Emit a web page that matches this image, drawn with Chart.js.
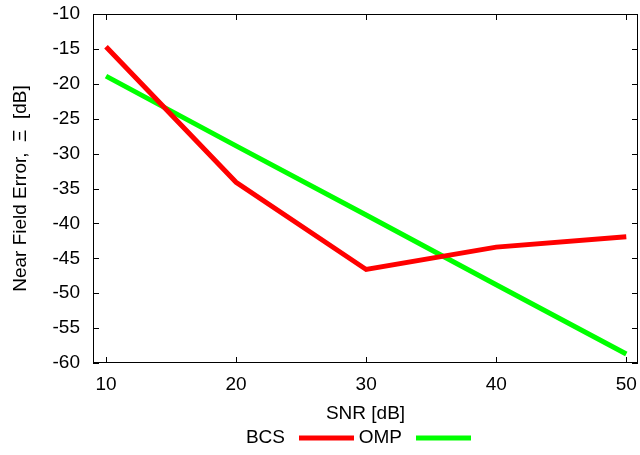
<!DOCTYPE html>
<html>
<head>
<meta charset="utf-8">
<script src="https://cdn.jsdelivr.net/npm/chart.js@4"></script>
<style>
  html, body { margin: 0; padding: 0; background: #fff; }
  #wrap { width: 640px; height: 455px; position: relative; }
</style>
</head>
<body>
<div id="wrap"><canvas id="nfChart"></canvas></div>
<script>
// values
const snr = [10, 20, 30, 40, 50];
const bcs = [-14.7, -34.1, -46.6, -43.4, -41.9];
const omp = [-18.9, -28.9, -38.8, -48.8, -58.7];
const xTicks = [10, 20, 30, 40, 50];

const FONT = "'Liberation Sans', Arial, sans-serif";

// gnuplot-like frame, inward ticks and a "label then line" legend
const gnuplotLook = {
    id: 'gnuplotLook',
    afterDatasetsDraw(chart) {
        const { ctx, chartArea: a, scales: { x, y } } = chart;
        ctx.save();
        ctx.strokeStyle = '#000';
        ctx.lineWidth = 1;
        ctx.strokeRect(a.left + 0.5, a.top + 0.5, a.right - a.left - 1, a.bottom - a.top - 1);
        const len = 6;
        ctx.beginPath();
        x.ticks.forEach(t => {
            const px = Math.round(x.getPixelForValue(t.value)) + 0.5;
            ctx.moveTo(px, a.bottom); ctx.lineTo(px, a.bottom - len);
            ctx.moveTo(px, a.top); ctx.lineTo(px, a.top + len);
        });
        y.ticks.forEach(t => {
            const py = Math.round(y.getPixelForValue(t.value)) + 0.5;
            ctx.moveTo(a.left, py); ctx.lineTo(a.left + len, py);
            ctx.moveTo(a.right, py); ctx.lineTo(a.right - len, py);
        });
        ctx.stroke();

        // legend
        ctx.font = '19px ' + FONT;
        ctx.textAlign = 'right';
        ctx.textBaseline = 'middle';
        ctx.fillStyle = '#000';
        const ly = 438;
        chart.data.datasets.forEach((ds, i) => {
            const textRight = 285 + i * 117;
            ctx.fillText(ds.label, textRight, ly);
            ctx.strokeStyle = ds.borderColor;
            ctx.lineWidth = 5;
            ctx.beginPath();
            ctx.moveTo(textRight + 14, ly);
            ctx.lineTo(textRight + 69, ly);
            ctx.stroke();
        });
        ctx.restore();
    }
};

const ctx = document.getElementById('nfChart');

new Chart(ctx, {
    type: 'line',
    data: {
        datasets: [{
            label: 'BCS',
            data: snr.map((v, i) => ({ x: v, y: bcs[i] })),
            borderColor: '#ff0000',
            backgroundColor: '#ff0000',
            borderWidth: 5,
            tension: 0,
            pointRadius: 0,
            fill: false
        }, {
            label: 'OMP',
            data: snr.map((v, i) => ({ x: v, y: omp[i] })),
            borderColor: '#00ff00',
            backgroundColor: '#00ff00',
            borderWidth: 5,
            tension: 0,
            pointRadius: 0,
            fill: false
        }]
    },
    options: {
        responsive: true,
        maintainAspectRatio: false,
        animation: false,
        layout: {
            padding: { top: 14, right: 2, bottom: 30, left: 0 }
        },
        plugins: {
            legend: { display: false },
            tooltip: { enabled: false }
        },
        scales: {
            x: {
                type: 'linear',
                min: 9,
                max: 50.9,
                afterBuildTicks: function (scale) {
                    scale.ticks = xTicks.map(v => ({ value: v }));
                },
                afterFit: function (scale) {
                    scale.height = 62;
                    scale.paddingLeft = 0;
                    scale.paddingRight = 0;
                },
                grid: { display: false, drawTicks: false },
                border: { display: false },
                ticks: {
                    color: '#000',
                    padding: 10,
                    maxRotation: 0,
                    font: { family: FONT, size: 19 }
                },
                title: {
                    display: true,
                    text: 'SNR [dB]',
                    color: '#000',
                    padding: { top: 0, bottom: 0 },
                    font: { family: FONT, size: 19 }
                }
            },
            y: {
                min: -60,
                max: -10,
                afterFit: function (scale) {
                    scale.width = 93;
                    scale.paddingTop = 0;
                    scale.paddingBottom = 0;
                },
                grid: { display: false, drawTicks: false },
                border: { display: false },
                ticks: {
                    stepSize: 5,
                    color: '#000',
                    padding: 13,
                    font: { family: FONT, size: 19 }
                },
                title: {
                    display: true,
                    text: 'Near Field Error,  Ξ  [dB]',
                    color: '#000',
                    padding: { top: 9, bottom: 0 },
                    font: { family: FONT, size: 19 }
                }
            }
        }
    },
    plugins: [gnuplotLook]
});
</script>
</body>
</html>
